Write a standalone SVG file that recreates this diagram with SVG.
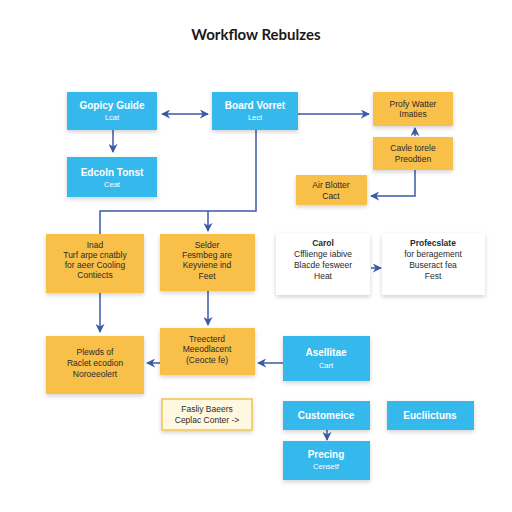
<svg xmlns="http://www.w3.org/2000/svg" width="512" height="512" viewBox="0 0 512 512">
<defs>
<filter id="sh" x="-20%" y="-20%" width="140%" height="150%">
<feDropShadow dx="0" dy="2" stdDeviation="2" flood-color="#000" flood-opacity="0.18"/>
</filter>
<marker id="ar" viewBox="0 0 10 10" refX="9" refY="5" markerWidth="6" markerHeight="6" orient="auto-start-reverse">
<path d="M0,0 L10,5 L0,10 L3,5 z" fill="#3a5aa8"/>
</marker>
<style>
.blue{fill:#35b9ec;filter:url(#sh)}
.yel{fill:#f8bf4a;filter:url(#sh)}
.wht{fill:#ffffff;filter:url(#sh)}
.pale{fill:#fff8e0;stroke:#f2c44f;stroke-width:1.5;filter:url(#sh)}
.tw{font-family:"Liberation Sans",Arial,sans-serif;fill:#ffffff;text-anchor:middle}
.td{font-family:"Liberation Sans",Arial,sans-serif;fill:#2a2a2a;text-anchor:middle;font-size:8.5px}
.h{font-size:10px;font-weight:bold}
.s{font-size:7.5px}
.c{fill:none;stroke:#3a5aa8;stroke-width:1.5}
</style>
</defs>
<rect width="512" height="512" fill="#ffffff"/>
<text x="256" y="40" font-family="Lato,'Liberation Sans',sans-serif" font-size="15" font-weight="bold" fill="#1a1a1a" text-anchor="middle">Workflow Rebulzes</text>

<g id="connectors">
<line class="c" x1="162" y1="114" x2="208" y2="114" marker-start="url(#ar)" marker-end="url(#ar)"/>
<line class="c" x1="113" y1="130" x2="113" y2="152" marker-end="url(#ar)"/>
<line class="c" x1="298" y1="114" x2="369" y2="114" marker-end="url(#ar)"/>
<line class="c" x1="415" y1="136" x2="415" y2="128" marker-end="url(#ar)"/>
<polyline class="c" points="415,170 415,196 371,196" marker-end="url(#ar)"/>
<polyline class="c" points="256,130 256,211 100,211 100,234"/>
<line class="c" x1="208" y1="211" x2="208" y2="231" marker-end="url(#ar)"/>
<line class="c" x1="371" y1="268" x2="381" y2="268" marker-end="url(#ar)"/>
<line class="c" x1="100" y1="293" x2="100" y2="332" marker-end="url(#ar)"/>
<line class="c" x1="208" y1="291" x2="208" y2="325" marker-end="url(#ar)"/>
<line class="c" x1="160" y1="363" x2="147" y2="363" marker-end="url(#ar)"/>
<line class="c" x1="283" y1="363" x2="258" y2="363" marker-end="url(#ar)"/>
<line class="c" x1="327" y1="430" x2="327" y2="440" marker-end="url(#ar)"/>
</g>

<g id="gopicy-guide"><rect class="blue" x="67" y="92" width="90" height="38"/>
<text class="tw h" x="112" y="109">Gopicy Guide</text><text class="tw s" x="112" y="120">Lcat</text></g>
<g id="board-vorret"><rect class="blue" x="212" y="92" width="86" height="38"/>
<text class="tw h" x="255" y="109">Board Vorret</text><text class="tw s" x="255" y="120">Lect</text></g>
<g id="edcoln-tonst"><rect class="blue" x="67" y="157" width="90" height="40"/>
<text class="tw h" x="112" y="176">Edcoln Tonst</text><text class="tw s" x="112" y="187">Ceat</text></g>

<g id="profy-watter"><rect class="yel" x="373" y="92" width="80" height="34"/>
<text class="td" x="413" y="107">Profy Watter</text><text class="td" x="413" y="117">Imaties</text></g>
<g id="cavle-torele"><rect class="yel" x="373" y="137" width="80" height="33"/>
<text class="td" x="413" y="151">Cavle torele</text><text class="td" x="413" y="162">Preodtien</text></g>
<g id="air-blotter"><rect class="yel" x="296" y="175" width="71" height="30"/>
<text class="td" x="331" y="188">Air Blotter</text><text class="td" x="331" y="199">Cact</text></g>

<g id="inad"><rect class="yel" x="46" y="234" width="98" height="59"/>
<text class="td" x="95" y="248">Inad</text><text class="td" x="95" y="258">Turf arpe cnatbly</text><text class="td" x="95" y="268">for aeer Cooling</text><text class="td" x="95" y="278">Contiects</text></g>
<g id="selder"><rect class="yel" x="160" y="234" width="95" height="57"/>
<text class="td" x="207" y="248">Selder</text><text class="td" x="207" y="258">Fesmbeg are</text><text class="td" x="207" y="268">Keyviene ind</text><text class="td" x="207" y="279">Feet</text></g>
<g id="carol"><rect class="wht" x="276" y="233" width="94" height="62"/>
<text class="td" x="323" y="246" style="font-weight:bold">Carol</text><text class="td" x="323" y="257">Cfflienge iabive</text><text class="td" x="323" y="268">Blacde fesweer</text><text class="td" x="323" y="279">Heat</text></g>
<g id="profecslate"><rect class="wht" x="382" y="233" width="103" height="62"/>
<text class="td" x="433" y="246" style="font-weight:bold">Profecslate</text><text class="td" x="433" y="257">for beragement</text><text class="td" x="433" y="268">Buseract fea</text><text class="td" x="433" y="279">Fest</text></g>

<g id="plewds"><rect class="yel" x="46" y="336" width="98" height="58"/>
<text class="td" x="95" y="355">Plewds of</text><text class="td" x="95" y="366">Raclet ecodion</text><text class="td" x="95" y="377">Noroeeolert</text></g>
<g id="treecterd"><rect class="yel" x="160" y="328" width="95" height="47"/>
<text class="td" x="207" y="342">Treecterd</text><text class="td" x="207" y="352">Meeodlacent</text><text class="td" x="207" y="363">(Ceocte fe)</text></g>
<g id="fasliy"><rect class="pale" x="162" y="399" width="90" height="31"/>
<text class="td" x="207" y="412">Fasliy Baeers</text><text class="td" x="207" y="423">Ceplac Conter -&gt;</text></g>

<g id="asellitae"><rect class="blue" x="283" y="336" width="87" height="45"/>
<text class="tw h" x="326" y="356">Asellitae</text><text class="tw s" x="326" y="368">Cart</text></g>
<g id="customeice"><rect class="blue" x="283" y="401" width="87" height="29"/>
<text class="tw h" x="326" y="419">Customeice</text></g>
<g id="eucliictuns"><rect class="blue" x="387" y="401" width="87" height="29"/>
<text class="tw h" x="430" y="419">Eucliictuns</text></g>
<g id="precing"><rect class="blue" x="283" y="441" width="87" height="39"/>
<text class="tw h" x="326" y="458">Precing</text><text class="tw s" x="326" y="469">Censetf</text></g>
</svg>
